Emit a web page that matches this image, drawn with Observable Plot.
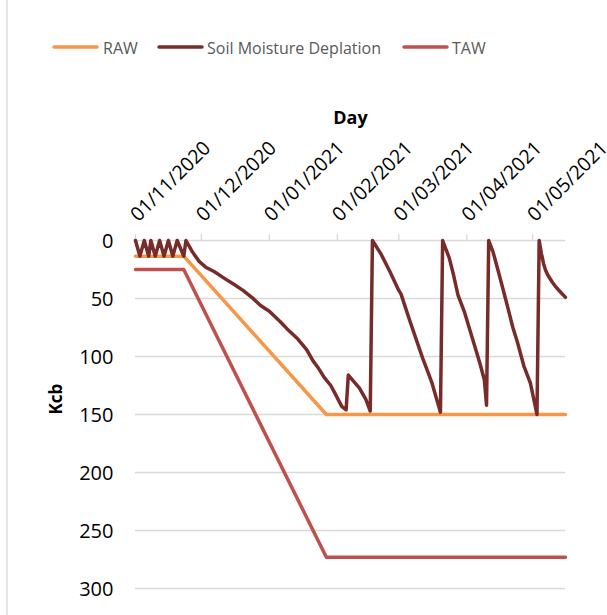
<!DOCTYPE html>
<html><head><meta charset="utf-8">
<script src="https://cdn.jsdelivr.net/npm/d3@7"></script>
<script src="https://cdn.jsdelivr.net/npm/@observablehq/plot@0.6"></script>
<style>
body{margin:0;background:#fff;}
#wrap{position:relative;width:607px;height:615px;overflow:hidden;font-family:'Open Sans',sans-serif;background:#fff;}
#wrap svg{position:absolute;left:0;top:0;}
</style></head><body><div id="wrap"></div>
<script>
// ---- data ----
const seriesNames = ["RAW", "Soil Moisture Deplation", "TAW"];
const seriesColors = ["#F79646", "#772C2A", "#C0504D"];

const rawDates = ["2020-11-01", "2020-11-23", "2021-01-27", "2021-05-16"];
const rawValues = [13.5, 13.5, 150, 150];

const tawDates = ["2020-11-01", "2020-11-23", "2021-01-27", "2021-05-16"];
const tawValues = [25, 25, 273, 273];

const smdDates = [
  "2020-11-01","2020-11-03","2020-11-05","2020-11-07","2020-11-08","2020-11-10","2020-11-12","2020-11-14",
  "2020-11-16","2020-11-18","2020-11-20","2020-11-23","2020-11-24","2020-11-27","2020-11-30","2020-12-03",
  "2020-12-07","2020-12-11","2020-12-16","2020-12-20","2020-12-24","2020-12-28","2021-01-01","2021-01-06",
  "2021-01-09","2021-01-14","2021-01-18","2021-01-21","2021-01-23","2021-01-26","2021-01-29","2021-01-31",
  "2021-02-03","2021-02-05","2021-02-06","2021-02-11","2021-02-14","2021-02-16",
  "2021-02-17","2021-02-18","2021-02-21","2021-02-25","2021-03-01","2021-03-02","2021-03-06","2021-03-10",
  "2021-03-12","2021-03-14","2021-03-16","2021-03-20",
  "2021-03-21","2021-03-24","2021-03-26","2021-03-28","2021-03-30","2021-03-31","2021-04-04","2021-04-07",
  "2021-04-09","2021-04-10",
  "2021-04-11","2021-04-13","2021-04-16","2021-04-20","2021-04-22","2021-04-24","2021-04-27","2021-04-30",
  "2021-05-03",
  "2021-05-04","2021-05-05","2021-05-06","2021-05-07","2021-05-08","2021-05-10","2021-05-12","2021-05-14",
  "2021-05-16"
];
const smdValues = [
  0, 13.5, 0, 13.5, 0, 13.5, 0, 13.5,
  0, 13.5, 0, 13.5, 0, 10, 18, 23,
  27, 32, 38, 43, 49, 56, 61, 70,
  76, 85, 94, 104, 109, 118, 125, 132,
  143, 146, 116, 127, 137, 147,
  0, 3, 12, 27, 43, 46, 69, 91,
  102, 112, 122, 148,
  0, 15, 30, 47, 57, 62, 87, 106,
  120, 142,
  0, 10, 31, 60, 75, 87, 108, 123,
  150,
  0, 11, 20, 26, 30, 36, 41, 45,
  49
];

const xStart = "2020-11-01";
const xEnd = "2021-05-16";
const monthTicks = ["2020-11-01","2020-12-01","2021-01-01","2021-02-01","2021-03-01","2021-04-01","2021-05-01"];
const yTicks = [0, 50, 100, 150, 200, 250, 300];
const xTitle = "Day";
const yTitle = "Kcb";

// ---- build ----
const parse = s => new Date(s + "T00:00:00Z");
const fmt = d3.utcFormat("%d/%m/%Y");
const rows = (ds, vs, name) => ds.map((d, i) => ({date: parse(d), value: vs[i], series: name}));
const raw = rows(rawDates, rawValues, seriesNames[0]);
const smd = rows(smdDates, smdValues, seriesNames[1]);
const taw = rows(tawDates, tawValues, seriesNames[2]);
const ticksX = monthTicks.map(parse);

const lineOpts = (c) => ({x: "date", y: "value", stroke: c, strokeWidth: 3.5, strokeLinejoin: "round", strokeLinecap: "round"});

const chart = Plot.plot({
  width: 607, height: 615,
  marginTop: 240, marginBottom: 27, marginLeft: 135, marginRight: 42,
  style: {fontFamily: "'Open Sans', sans-serif", background: "transparent", overflow: "visible"},
  x: {type: "utc", domain: [parse(xStart), parse(xEnd)], axis: null},
  y: {domain: [0, 300], reverse: true, axis: null},
  marks: [
    Plot.ruleY(yTicks, {stroke: "#d9d9d9", strokeWidth: 1.3}),
    Plot.axisX({anchor: "top", ticks: ticksX, tickSize: 7, tickFormat: () => "", stroke: "#d9d9d9", strokeWidth: 1.3, label: null}),
    Plot.text(ticksX, {x: d => d, text: d => fmt(d), frameAnchor: "top", rotate: -45, textAnchor: "start", lineAnchor: "bottom", dx: 3, dy: -18, fontSize: 19.5, fill: "#000"}),
    Plot.text(yTicks, {y: d => d, text: d => String(d), frameAnchor: "left", textAnchor: "end", dx: -22, dy: 1.5, fontSize: 20, fill: "#000"}),
    Plot.text([xTitle], {frameAnchor: "top", dy: -117, lineAnchor: "bottom", fontWeight: "bold", fontSize: 18, fill: "#000"}),
    Plot.text([yTitle], {frameAnchor: "left", dx: -74, rotate: -90, lineAnchor: "bottom", fontWeight: "bold", fontSize: 17, fill: "#000"}),
    Plot.line(raw, lineOpts(seriesColors[0])),
    Plot.line(smd, lineOpts(seriesColors[1])),
    Plot.line(taw, lineOpts(seriesColors[2]))
  ]
});

const wrap = document.getElementById("wrap");
wrap.appendChild(chart);

// legend + chart border overlay
const leg = d3.create("svg").attr("width", 607).attr("height", 615);
leg.append("line").attr("x1", 7).attr("x2", 7).attr("y1", 0).attr("y2", 615).attr("stroke", "#d9d9d9").attr("stroke-width", 1.3);
const legendLayout = [{x1: 54, x2: 97, tx: 103}, {x1: 159, x2: 202, tx: 207}, {x1: 404, x2: 447, tx: 452}];
seriesNames.forEach((name, i) => {
  const L = legendLayout[i];
  leg.append("line").attr("x1", L.x1).attr("x2", L.x2).attr("y1", 47).attr("y2", 47)
    .attr("stroke", seriesColors[i]).attr("stroke-width", 3.5).attr("stroke-linecap", "round");
  leg.append("text").attr("x", L.tx).attr("y", 54).attr("font-size", 16).attr("fill", "#595959")
    .attr("font-family", "'Open Sans', sans-serif").text(name);
});
wrap.appendChild(leg.node());
</script></body></html>
